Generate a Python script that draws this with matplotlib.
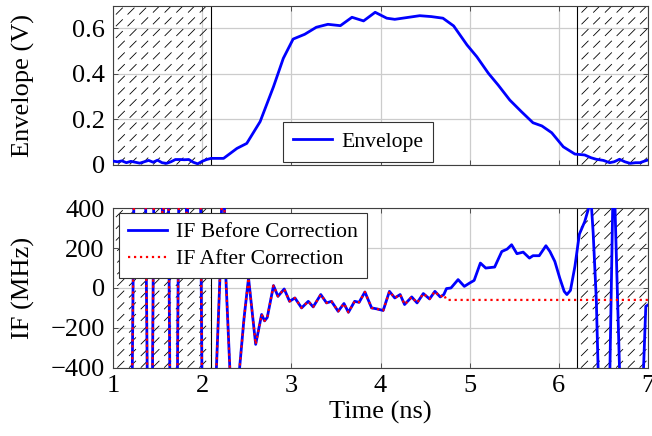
import matplotlib as mpl
mpl.use('Agg')
import matplotlib.pyplot as plt
from matplotlib.lines import Line2D
from matplotlib.transforms import IdentityTransform
import numpy as np

plt.rcParams['font.family'] = ['Liberation Serif', 'DejaVu Serif']
plt.rcParams['font.size'] = 19
plt.rcParams['lines.scale_dashes'] = False
plt.rcParams['axes.unicode_minus'] = True

# envelope (V) vs time (ns)
env_t = [1.00, 1.05, 1.10, 1.15, 1.20, 1.25, 1.30, 1.35, 1.40, 1.45, 1.50, 1.55,
         1.60, 1.65, 1.70, 1.75, 1.80, 1.85, 1.90, 1.95, 2.00, 2.05, 2.10, 2.24,
         2.39, 2.50, 2.65, 2.80, 2.91, 3.02, 3.15, 3.28, 3.41, 3.55, 3.68, 3.81,
         3.94, 4.07, 4.16, 4.30, 4.44, 4.57, 4.70, 4.82, 4.97, 5.08, 5.21, 5.32,
         5.45, 5.58, 5.71, 5.81, 5.92, 6.05, 6.18, 6.29, 6.36, 6.42, 6.50, 6.57,
         6.62, 6.68, 6.74, 6.80, 6.86, 6.91, 6.96, 7.00]
env_v = [0.015, 0.012, 0.016, 0.008, 0.014, 0.010, 0.006, 0.012, 0.018, 0.010, 0.019, 0.008,
         0.005, 0.012, 0.022, 0.022, 0.021, 0.022, 0.010, 0.003, 0.014, 0.022, 0.027, 0.027,
         0.071, 0.093, 0.189, 0.343, 0.468, 0.553, 0.574, 0.605, 0.618, 0.612, 0.649, 0.633,
         0.671, 0.645, 0.640, 0.648, 0.656, 0.652, 0.645, 0.611, 0.527, 0.475, 0.402, 0.350,
         0.284, 0.233, 0.184, 0.170, 0.140, 0.078, 0.046, 0.042, 0.030, 0.023, 0.018, 0.008,
         0.012, 0.023, 0.012, 0.005, 0.008, 0.008, 0.015, 0.020]

# instantaneous frequency (MHz), common part up to 4.71 ns
if_t = [1.00, 1.20, 1.25, 1.35, 1.40, 1.43, 1.47, 1.53, 1.56, 1.59, 1.61, 1.65,
        1.71, 1.75, 1.80, 1.83, 1.86, 1.97, 2.01, 2.13, 2.16, 2.20, 2.235, 2.265,
        2.31, 2.365, 2.42, 2.47, 2.52, 2.60, 2.667, 2.70, 2.73, 2.80, 2.85, 2.92,
        2.98, 3.04, 3.115, 3.19, 3.245, 3.33, 3.395, 3.45, 3.525, 3.59, 3.64, 3.71,
        3.76, 3.825, 3.90, 3.96, 4.03, 4.10, 4.16, 4.22, 4.27, 4.35, 4.41, 4.48,
        4.55, 4.61, 4.67, 4.71]
if_v = [-1200, -1200, 1200, 1200, -1200, -1200, 1200, 1200, 150, 1200, 1200, -1200,
        -1200, 1200, 1200, 150, 1200, 1200, -1200, -800, -400, 60, 750, 60,
        -400, -900, -400, -150, 50, -283, -133, -165, -148, 12, -42, -5,
        -67, -50, -100, -67, -95, -33, -75, -67, -117, -78, -122, -67,
        -72, -20, -100, -105, -113, -17, -50, -33, -83, -45, -75, -28,
        -55, -17, -45, -33]

# before correction, rest of the record
before_t = [4.74, 4.79, 4.87, 4.94, 5.00, 5.05, 5.12, 5.18, 5.28, 5.36, 5.42, 5.47,
            5.53, 5.60, 5.67, 5.71, 5.78, 5.855, 5.90, 5.955, 6.01, 6.06, 6.09, 6.13,
            6.18, 6.23, 6.29, 6.34, 6.36, 6.385, 6.42, 6.44, 6.50, 6.55, 6.615, 6.63,
            6.68, 6.74, 6.92, 6.95, 6.975, 7.00]
before_v = [-3, 0, 42, 8, 25, 38, 125, 100, 105, 183, 195, 217,
            172, 180, 150, 162, 162, 212, 183, 133, 50, -17, -33, -12,
            108, 270, 333, 410, 450, 275, -58, -400, -1200, -1000, 700, 400,
            -400, -1000, -1000, -400, -92, -85]

# after correction, rest of the record
after_t = [4.74, 7.00]
after_v = [-60, -60]

shade_spans = [(1.0, 2.1), (6.2, 7.0)]

fig = plt.figure(figsize=(6.52, 4.36), dpi=100)
ax1 = fig.add_axes([0.1733, 0.6227, 0.8206, 0.3642])
ax2 = fig.add_axes([0.1733, 0.1567, 0.8206, 0.3656])


def shade(ax, a, b):
    ylo, yhi = ax.get_ylim()
    rect = ax.axvspan(a, b, facecolor='none', edgecolor='none', zorder=1.6)
    x0, y0 = ax.transData.transform((a, ylo))
    x1, y1 = ax.transData.transform((b, yhi))
    h = y1 - y0
    step = 11.7
    for c in np.arange(x0 - h - step, x1 + step, step):
        ln = Line2D([c, c + h], [y0, y1], transform=IdentityTransform(),
                    color='black', lw=0.6, dashes=(7.0, 4.9), zorder=1.6)
        ax.add_artist(ln)
        ln.set_clip_path(rect)  # after add_artist, else it gets the axes patch


for ax in (ax1, ax2):
    ax.set_xlim(1, 7)
    ax.set_xticks([1, 2, 3, 4, 5, 6, 7])
    ax.grid(True, color='#cccccc', lw=0.9)
    ax.set_axisbelow(True)
    ax.tick_params(direction='in', top=True, right=True, length=3.5,
                   width=0.7, color='0.3', labelsize=19)
    ax.tick_params(axis='y', pad=6)
    ax.tick_params(axis='x', pad=5)
    for s in ax.spines.values():
        s.set_color('0.25')
        s.set_linewidth(0.8)

ax1.set_ylim(0, 0.7)
ax1.set_yticks([0, 0.2, 0.4, 0.6])
ax1.set_yticklabels(['0', '0.2', '0.4', '0.6'])
ax1.tick_params(axis='x', labelbottom=False)
ax2.set_ylim(-400, 400)
ax2.set_yticks([-400, -200, 0, 200, 400])

for ax in (ax1, ax2):
    for a, b in shade_spans:
        shade(ax, a, b)
    ax.axvline(2.1, color='black', lw=0.8, zorder=1.7)
    ax.axvline(6.2, color='black', lw=0.8, zorder=1.7)

ax1.plot(env_t, env_v, color='blue', lw=2.0, label='Envelope', zorder=3)
ax1.set_ylabel('Envelope (V)')
ax1.yaxis.set_label_coords(-0.146, 0.5)
leg1 = ax1.legend(loc='lower center', bbox_to_anchor=(0.458, 0.018), borderaxespad=0,
                  fancybox=False, framealpha=1, edgecolor='0.2', handlelength=1.8,
                  handletextpad=0.4, borderpad=0.45, fontsize=15.6)
leg1.get_frame().set_linewidth(0.8)

ax2.plot(if_t + before_t, if_v + before_v, color='blue', lw=2.0,
         label='IF Before Correction', zorder=3)
ax2.plot(if_t + after_t, if_v + after_v, color='red', lw=1.6, dashes=(1.6, 2.7),
         label='IF After Correction', zorder=4)
ax2.set_ylabel('IF (MHz)')
ax2.yaxis.set_label_coords(-0.146, 0.5)
ax2.set_xlabel('Time (ns)', labelpad=3)
leg2 = ax2.legend(loc='upper left', bbox_to_anchor=(0.011, 0.969), borderaxespad=0,
                  fancybox=False, framealpha=1, edgecolor='0.2', handlelength=1.8,
                  handletextpad=0.4, borderpad=0.42, labelspacing=0.3, fontsize=15.6)
leg2.get_frame().set_linewidth(0.8)

fig.savefig('out.png', dpi=100)
